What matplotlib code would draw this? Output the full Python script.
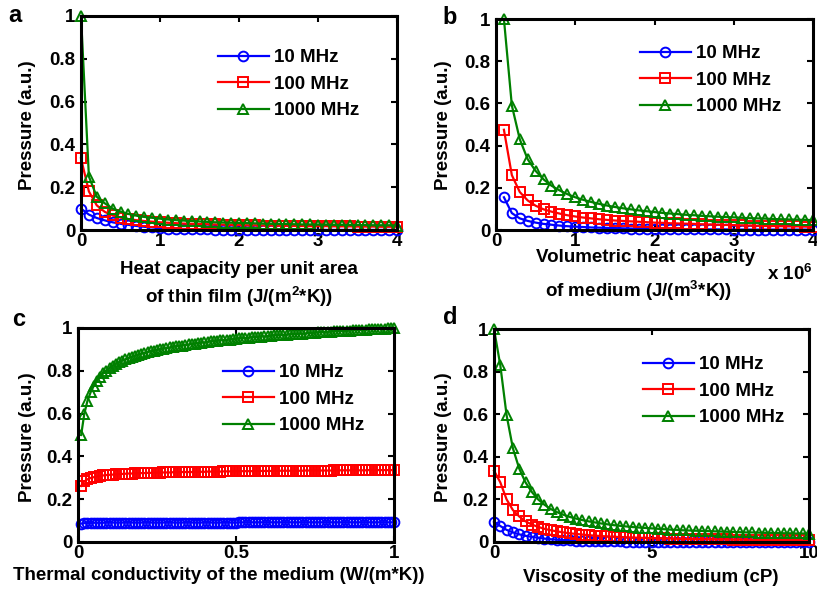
import numpy as np
import matplotlib
matplotlib.use("Agg")
import matplotlib.pyplot as plt
from matplotlib.ticker import FuncFormatter, FixedLocator

plt.rcParams['font.family'] = ['Liberation Sans', 'DejaVu Sans']
plt.rcParams['font.weight'] = 'bold'
plt.rcParams['mathtext.fontset'] = 'custom'
plt.rcParams['mathtext.rm'] = 'Liberation Sans:bold'
plt.rcParams['mathtext.bf'] = 'Liberation Sans:bold'

labels = ['10 MHz', '100 MHz', '1000 MHz']

# ---- panel a: heat capacity per unit area of thin film (0..4, step 0.1)
xa = np.round(np.arange(0, 41) * 0.1, 2)
a_10 = [0.100, 0.072, 0.056, 0.045, 0.036, 0.029, 0.024, 0.019, 0.015, 0.012,
        0.009, 0.007, 0.006, 0.005, 0.004, 0.003, 0.0025, 0.002, 0.002, 0.0015,
        0.001, 0.001, 0.001, 0.001, 0.001, 0.001, 0.001, 0.001, 0.001, 0.001,
        0.001, 0.0005, 0.0005, 0.0005, 0.0005, 0.0005, 0.0005, 0.0005, 0.0005, 0.0005, 0.0005]
a_100 = [0.335, 0.180, 0.115, 0.085, 0.068, 0.058, 0.051, 0.046, 0.042, 0.039,
         0.036, 0.034, 0.032, 0.030, 0.029, 0.028, 0.027, 0.026, 0.025, 0.024,
         0.023, 0.022, 0.022, 0.021, 0.021, 0.020, 0.020, 0.019, 0.019, 0.018,
         0.018, 0.018, 0.017, 0.017, 0.017, 0.016, 0.016, 0.016, 0.015, 0.015, 0.015]
a_1000 = [1.000, 0.250, 0.155, 0.125, 0.100, 0.086, 0.075, 0.067, 0.061, 0.057,
          0.053, 0.049, 0.046, 0.044, 0.042, 0.040, 0.038, 0.036, 0.035, 0.034,
          0.033, 0.032, 0.031, 0.030, 0.029, 0.028, 0.028, 0.027, 0.026, 0.026,
          0.025, 0.025, 0.024, 0.024, 0.023, 0.023, 0.023, 0.022, 0.022, 0.022, 0.021]

# ---- panel b: volumetric heat capacity of medium (0.1e6..4e6, step 0.1e6)
xb = np.round(np.arange(1, 41) * 0.1, 2) * 1e6
b_10 = [0.155, 0.080, 0.055, 0.043, 0.035, 0.029, 0.025, 0.021, 0.018, 0.016,
        0.014, 0.012, 0.011, 0.010, 0.009, 0.008, 0.007, 0.007, 0.006, 0.006,
        0.005, 0.005, 0.004, 0.004, 0.004, 0.003, 0.003, 0.003, 0.003, 0.002,
        0.002, 0.002, 0.002, 0.002, 0.002, 0.002, 0.002, 0.002, 0.002, 0.002]
b_100 = [0.475, 0.260, 0.180, 0.140, 0.115, 0.098, 0.087, 0.078, 0.070, 0.064,
         0.059, 0.055, 0.051, 0.048, 0.045, 0.043, 0.041, 0.039, 0.037, 0.035,
         0.034, 0.032, 0.031, 0.030, 0.029, 0.027, 0.026, 0.025, 0.024, 0.023,
         0.022, 0.021, 0.020, 0.019, 0.019, 0.018, 0.017, 0.017, 0.016, 0.015]
b_1000 = [1.000, 0.590, 0.430, 0.335, 0.280, 0.240, 0.210, 0.188, 0.170, 0.155,
          0.143, 0.133, 0.124, 0.116, 0.109, 0.103, 0.098, 0.093, 0.089, 0.085,
          0.081, 0.078, 0.075, 0.072, 0.070, 0.067, 0.065, 0.063, 0.061, 0.060,
          0.058, 0.056, 0.055, 0.054, 0.052, 0.051, 0.050, 0.049, 0.048, 0.047]

# ---- panel c: thermal conductivity of the medium (0.01..1, step 0.01)
xc = np.round(np.arange(1, 101) * 0.01, 2)
c_10 = [0.086, 0.088, 0.089, 0.089, 0.090, 0.090, 0.090, 0.090, 0.091, 0.091,
        0.091, 0.091, 0.091, 0.091, 0.091, 0.091, 0.091, 0.091, 0.091, 0.091,
        0.091, 0.091, 0.091, 0.091, 0.091, 0.091, 0.091, 0.091, 0.091, 0.091,
        0.091, 0.091, 0.091, 0.091, 0.091, 0.091, 0.091, 0.091, 0.091, 0.091,
        0.091, 0.091, 0.091, 0.091, 0.091, 0.091, 0.091, 0.091, 0.091, 0.091,
        0.092, 0.092, 0.092, 0.092, 0.092, 0.092, 0.092, 0.092, 0.092, 0.092,
        0.092, 0.092, 0.092, 0.092, 0.092, 0.092, 0.092, 0.092, 0.092, 0.092,
        0.092, 0.092, 0.092, 0.092, 0.092, 0.092, 0.092, 0.092, 0.092, 0.092,
        0.092, 0.092, 0.092, 0.092, 0.092, 0.092, 0.092, 0.092, 0.092, 0.092,
        0.092, 0.092, 0.092, 0.092, 0.092, 0.092, 0.092, 0.092, 0.092, 0.092]
c_100 = [0.262, 0.283, 0.293, 0.299, 0.303, 0.306, 0.309, 0.311, 0.313, 0.314,
         0.315, 0.316, 0.317, 0.318, 0.319, 0.320, 0.320, 0.321, 0.321, 0.322,
         0.322, 0.323, 0.323, 0.324, 0.324, 0.324, 0.325, 0.325, 0.325, 0.326,
         0.326, 0.326, 0.327, 0.327, 0.327, 0.327, 0.328, 0.328, 0.328, 0.328,
         0.329, 0.329, 0.329, 0.329, 0.329, 0.330, 0.330, 0.330, 0.330, 0.330,
         0.331, 0.331, 0.331, 0.331, 0.331, 0.331, 0.332, 0.332, 0.332, 0.332,
         0.332, 0.332, 0.332, 0.333, 0.333, 0.333, 0.333, 0.333, 0.333, 0.333,
         0.333, 0.334, 0.334, 0.334, 0.334, 0.334, 0.334, 0.334, 0.334, 0.334,
         0.335, 0.335, 0.335, 0.335, 0.335, 0.335, 0.335, 0.335, 0.335, 0.335,
         0.335, 0.336, 0.336, 0.336, 0.336, 0.336, 0.336, 0.336, 0.336, 0.336]
c_1000 = [0.500, 0.600, 0.660, 0.700, 0.730, 0.753, 0.772, 0.788, 0.801, 0.813,
          0.823, 0.832, 0.840, 0.847, 0.854, 0.860, 0.865, 0.870, 0.875, 0.879,
          0.883, 0.887, 0.891, 0.894, 0.897, 0.900, 0.903, 0.906, 0.909, 0.911,
          0.914, 0.916, 0.918, 0.921, 0.923, 0.925, 0.927, 0.929, 0.931, 0.933,
          0.935, 0.937, 0.938, 0.940, 0.942, 0.943, 0.945, 0.946, 0.948, 0.949,
          0.951, 0.952, 0.953, 0.955, 0.956, 0.957, 0.959, 0.960, 0.961, 0.962,
          0.963, 0.965, 0.966, 0.967, 0.968, 0.969, 0.970, 0.971, 0.972, 0.973,
          0.974, 0.975, 0.976, 0.977, 0.978, 0.979, 0.980, 0.981, 0.982, 0.983,
          0.984, 0.985, 0.986, 0.986, 0.987, 0.988, 0.989, 0.990, 0.991, 0.991,
          0.992, 0.993, 0.994, 0.995, 0.995, 0.996, 0.997, 0.998, 0.999, 1.000]

# ---- panel d: viscosity of the medium (0..10 cP, step 0.2)
xd = np.round(np.arange(0, 51) * 0.2, 2)
d_10 = [0.095, 0.075, 0.057, 0.045, 0.036, 0.029, 0.024, 0.020, 0.016, 0.013,
        0.011, 0.009, 0.008, 0.007, 0.006, 0.005, 0.004, 0.004, 0.003, 0.003,
        0.003, 0.002, 0.002, 0.002, 0.002, 0.002, 0.002, 0.002, 0.001, 0.001,
        0.001, 0.001, 0.001, 0.001, 0.001, 0.001, 0.001, 0.001, 0.001, 0.001,
        0.001, 0.001, 0.001, 0.001, 0.001, 0.001, 0.001, 0.001, 0.001, 0.001, 0.001]
d_100 = [0.335, 0.280, 0.200, 0.150, 0.120, 0.097, 0.082, 0.071, 0.062, 0.055,
         0.050, 0.045, 0.041, 0.038, 0.035, 0.032, 0.030, 0.028, 0.026, 0.025,
         0.023, 0.022, 0.021, 0.020, 0.019, 0.018, 0.017, 0.017, 0.016, 0.015,
         0.015, 0.014, 0.014, 0.013, 0.013, 0.012, 0.012, 0.012, 0.011, 0.011,
         0.011, 0.010, 0.010, 0.010, 0.010, 0.009, 0.009, 0.009, 0.009, 0.008, 0.008]
d_1000 = [1.000, 0.830, 0.595, 0.440, 0.345, 0.280, 0.235, 0.200, 0.175, 0.155,
          0.140, 0.128, 0.118, 0.110, 0.103, 0.097, 0.092, 0.087, 0.083, 0.079,
          0.076, 0.073, 0.070, 0.068, 0.066, 0.064, 0.062, 0.060, 0.058, 0.057,
          0.055, 0.054, 0.053, 0.052, 0.051, 0.050, 0.049, 0.048, 0.047, 0.046,
          0.045, 0.045, 0.044, 0.043, 0.043, 0.042, 0.041, 0.041, 0.040, 0.040, 0.039]

W, H = 817, 596
fig = plt.figure(figsize=(W / 100, H / 100), dpi=100)


def rect(l, t, r, b):
    return [l / W, 1 - b / H, (r - l) / W, (b - t) / H]


def fx(x):
    return x / W


def fy(y):
    return 1 - y / H


FS = 13.5
colors = ['#0000ff', '#ff0000', '#008000']
markers = ['o', 's', '^']
msizes = [7, 6.5, 7.5]


def panel(r, x, ys, xlim, xticks, legend_xy, letter, letter_xy, ylabel_xy, xfmt=None):
    ax = fig.add_axes(rect(*r))
    for y, c, m, ms, lab in zip(ys, colors, markers, msizes, labels):
        ax.plot(x, y, color=c, marker=m, markersize=ms, markerfacecolor='none',
                markeredgecolor=c, markeredgewidth=1.4, linewidth=1.6, label=lab,
                clip_on=False)
    ax.set_xlim(*xlim)
    ax.set_ylim(0, 1)
    ax.xaxis.set_major_locator(FixedLocator(xticks))
    ax.yaxis.set_major_locator(FixedLocator([0, 0.2, 0.4, 0.6, 0.8, 1.0]))
    if xfmt is None:
        ax.xaxis.set_major_formatter(FuncFormatter(lambda v, p: '%g' % v))
    else:
        ax.xaxis.set_major_formatter(FuncFormatter(xfmt))
    ax.yaxis.set_major_formatter(FuncFormatter(lambda v, p: '%g' % v))
    ax.tick_params(direction='in', length=4, width=1.5, top=True, right=True,
                   labelsize=FS, pad=2)
    ax.tick_params(axis='y', pad=4)
    for s in ax.spines.values():
        s.set_linewidth(2.2)
    for lab in ax.get_xticklabels() + ax.get_yticklabels():
        lab.set_fontweight('bold')
    leg = ax.legend(loc='upper left', bbox_to_anchor=(fx(legend_xy[0]), fy(legend_xy[1])),
                    bbox_transform=fig.transFigure, frameon=False, numpoints=1,
                    fontsize=FS, handlelength=2.7, handletextpad=0.3,
                    labelspacing=0.5, borderpad=0, borderaxespad=0)
    for t in leg.get_texts():
        t.set_fontweight('bold')
    fig.text(fx(letter_xy[0]), fy(letter_xy[1]), letter, fontsize=17,
             fontweight='bold', ha='left', va='center')
    fig.text(fx(ylabel_xy[0]), fy(ylabel_xy[1]), 'Pressure (a.u.)', fontsize=FS,
             fontweight='bold', rotation=90, ha='center', va='center')
    return ax


# panel a
panel((81, 16, 397, 230), xa, [a_10, a_100, a_1000], (0, 4), [0, 1, 2, 3, 4],
      (218, 49), 'a', (8, 16), (28, 125))
fig.text(fx(239), fy(270), 'Heat capacity per unit area', fontsize=FS,
         fontweight='bold', ha='center', va='center')
fig.text(fx(239), fy(297), r'of thin film (J/(m$^{\mathbf{2}}$*K))', fontsize=FS,
         fontweight='bold', ha='center', va='center')

# panel b
panel((496, 19, 813, 230), xb, [b_10, b_100, b_1000], (0, 4e6),
      [0, 1e6, 2e6, 3e6, 4e6], (640, 45), 'b', (442, 18), (443, 125),
      xfmt=lambda v, p: '%g' % (v / 1e6))
fig.text(fx(645), fy(257), 'Volumetric heat capacity', fontsize=FS,
         fontweight='bold', ha='center', va='center')
fig.text(fx(639), fy(291), r'of medium (J/(m$^{\mathbf{3}}$*K))', fontsize=FS,
         fontweight='bold', ha='center', va='center')
fig.text(fx(767), fy(274), r'x 10$^{\mathbf{6}}$', fontsize=FS,
         fontweight='bold', ha='left', va='center')

# panel c
panel((78, 328, 394, 542), xc, [c_10, c_100, c_1000], (0, 1), [0, 0.5, 1],
      (223, 364), 'c', (12, 320), (27, 437))
fig.text(fx(219), fy(576), 'Thermal conductivity of the medium (W/(m*K))',
         fontsize=FS, fontweight='bold', ha='center', va='center')

# panel d
panel((494, 329, 809, 542), xd, [d_10, d_100, d_1000], (0, 10), [0, 5, 10],
      (643, 356), 'd', (443, 317), (443, 437))
fig.text(fx(651), fy(578), 'Viscosity of the medium (cP)', fontsize=FS,
         fontweight='bold', ha='center', va='center')

fig.savefig('out.png', dpi=100)
